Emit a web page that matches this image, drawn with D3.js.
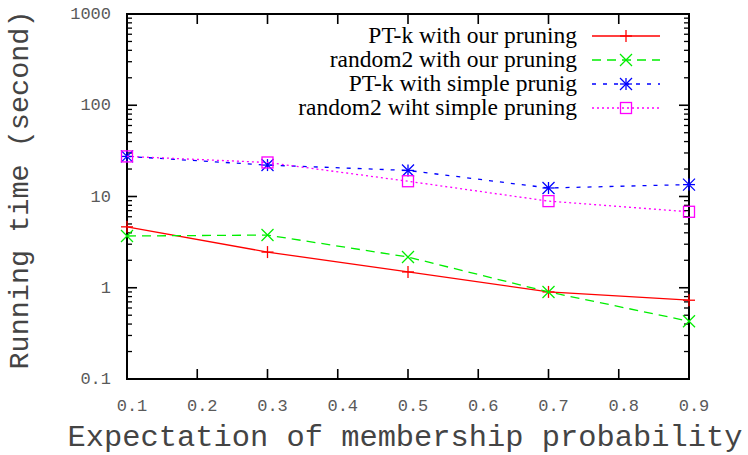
<!DOCTYPE html>
<html>
<head>
<meta charset="utf-8">
<script src="https://cdn.jsdelivr.net/npm/d3@7"></script>
<style>
  html, body { margin: 0; padding: 0; background: #fff; }
  svg { display: block; }
</style>
</head>
<body>
<svg id="chart" width="748" height="455"></svg>
<script>
// Expectation of membership probability (x values)
const xValues = [0.1, 0.3, 0.5, 0.7, 0.9];

// Running time in seconds for each method
const ptkOurPruning = [4.65, 2.46, 1.49, 0.90, 0.73];
const random2OurPruning = [3.69, 3.78, 2.17, 0.90, 0.43];
const ptkSimplePruning = [27.5, 22.1, 19.3, 12.4, 13.5];
const random2SimplePruning = [27.5, 23.6, 14.7, 8.9, 6.8];

const seriesNames = [
  "PT-k with our pruning",
  "random2 with our pruning",
  "PT-k with simple prunig",
  "random2 wiht simple pruning"
];

// Axis ticks
const xTicks = [0.1, 0.2, 0.3, 0.4, 0.5, 0.6, 0.7, 0.8, 0.9];
const xTickLabels = ["0.1", "0.2", "0.3", "0.4", "0.5", "0.6", "0.7", "0.8", "0.9"];
const yTicks = [0.1, 1, 10, 100, 1000];
const yTickLabels = ["0.1", "1", "10", "100", "1000"];

const series = [
  { name: seriesNames[0], values: ptkOurPruning, color: "#ff0000", dash: null, marker: "plus" },
  { name: seriesNames[1], values: random2OurPruning, color: "#00ee00", dash: "9,6", marker: "cross" },
  { name: seriesNames[2], values: ptkSimplePruning, color: "#0000ff", dash: "4,7", marker: "star" },
  { name: seriesNames[3], values: random2SimplePruning, color: "#ff00ff", dash: "2,3", marker: "square" }
];

const svg = d3.select("#chart");
const plot = { left: 127, right: 689, top: 14, bottom: 379 };

const x = d3.scaleLinear().domain([0.1, 0.9]).range([plot.left, plot.right]);
const y = d3.scaleLog().domain([0.1, 1000]).range([plot.bottom, plot.top]);

const mono = "'Liberation Mono', 'DejaVu Sans Mono', monospace";
const serif = "'Liberation Serif', 'Times New Roman', serif";

// Ticks (drawn inward on all four sides)
const tickG = svg.append("g").attr("stroke", "#000").attr("stroke-width", 1.6);
xTicks.forEach(v => {
  tickG.append("line").attr("x1", x(v)).attr("x2", x(v)).attr("y1", plot.bottom).attr("y2", plot.bottom - 10);
  tickG.append("line").attr("x1", x(v)).attr("x2", x(v)).attr("y1", plot.top).attr("y2", plot.top + 10);
});
yTicks.forEach(v => {
  tickG.append("line").attr("x1", plot.left).attr("x2", plot.left + 10).attr("y1", y(v)).attr("y2", y(v));
  tickG.append("line").attr("x1", plot.right).attr("x2", plot.right - 10).attr("y1", y(v)).attr("y2", y(v));
});
// Minor ticks at 2..9 within each decade
const minor = [];
for (let d = 0; d < yTicks.length - 1; d++) {
  for (let m = 2; m <= 9; m++) minor.push(yTicks[d] * m);
}
minor.forEach(v => {
  tickG.append("line").attr("x1", plot.left).attr("x2", plot.left + 5).attr("y1", y(v)).attr("y2", y(v)).attr("stroke-width", 1.3);
  tickG.append("line").attr("x1", plot.right).attr("x2", plot.right - 5).attr("y1", y(v)).attr("y2", y(v)).attr("stroke-width", 1.3);
});

// Border
svg.append("rect")
  .attr("x", plot.left).attr("y", plot.top)
  .attr("width", plot.right - plot.left).attr("height", plot.bottom - plot.top)
  .attr("fill", "none").attr("stroke", "#000").attr("stroke-width", 2);

// Tick labels
svg.append("g").selectAll("text").data(xTicks).join("text")
  .attr("x", d => x(d) + 5)
  .attr("y", 411)
  .attr("text-anchor", "middle")
  .attr("font-family", mono).attr("font-size", 17).attr("fill", "#5a5a5a")
  .text((d, i) => xTickLabels[i]);

svg.append("g").selectAll("text").data(yTicks).join("text")
  .attr("x", 111)
  .attr("y", d => y(d) + 5)
  .attr("text-anchor", "end")
  .attr("font-family", mono).attr("font-size", 17).attr("fill", "#5a5a5a")
  .text((d, i) => yTickLabels[i]);

// Axis titles
svg.append("text")
  .attr("x", 405).attr("y", 446)
  .attr("text-anchor", "middle")
  .attr("font-family", mono).attr("font-size", 30.4).attr("fill", "#444")
  .text("Expectation of membership probability");

svg.append("text")
  .attr("transform", "translate(28,190) rotate(-90)")
  .attr("text-anchor", "middle")
  .attr("font-family", mono).attr("font-size", 28.5).attr("fill", "#444")
  .text("Running time (second)");

// Marker shapes
function drawMarker(g, kind, cx, cy, color) {
  const s = 6;
  const m = g.append("g").attr("stroke", color).attr("stroke-width", 1.3).attr("fill", "none");
  if (kind === "plus" || kind === "star") {
    m.append("line").attr("x1", cx - s).attr("x2", cx + s).attr("y1", cy).attr("y2", cy);
    m.append("line").attr("x1", cx).attr("x2", cx).attr("y1", cy - s).attr("y2", cy + s);
  }
  if (kind === "cross" || kind === "star") {
    m.append("line").attr("x1", cx - s).attr("x2", cx + s).attr("y1", cy - s).attr("y2", cy + s);
    m.append("line").attr("x1", cx - s).attr("x2", cx + s).attr("y1", cy + s).attr("y2", cy - s);
  }
  if (kind === "square") {
    m.append("rect").attr("x", cx - 5.5).attr("y", cy - 5.5).attr("width", 11).attr("height", 11);
  }
}

// Series lines and markers
const line = d3.line().x((d, i) => x(xValues[i])).y(d => y(d));
series.forEach(s => {
  svg.append("path")
    .datum(s.values)
    .attr("d", line)
    .attr("fill", "none")
    .attr("stroke", s.color)
    .attr("stroke-width", 1.3)
    .attr("stroke-dasharray", s.dash);
  const mg = svg.append("g");
  s.values.forEach((v, i) => drawMarker(mg, s.marker, x(xValues[i]), y(v), s.color));
});

// Legend
const legend = svg.append("g");
series.forEach((s, i) => {
  const ly = 36 + i * 24;
  legend.append("text")
    .attr("x", 577).attr("y", ly + 7)
    .attr("text-anchor", "end")
    .attr("font-family", serif).attr("font-size", 23.5).attr("fill", "#000")
    .text(s.name);
  legend.append("line")
    .attr("x1", 592).attr("x2", 660).attr("y1", ly).attr("y2", ly)
    .attr("stroke", s.color).attr("stroke-width", 1.3)
    .attr("stroke-dasharray", s.dash);
  drawMarker(legend, s.marker, 626, ly, s.color);
});
</script>
</body>
</html>
